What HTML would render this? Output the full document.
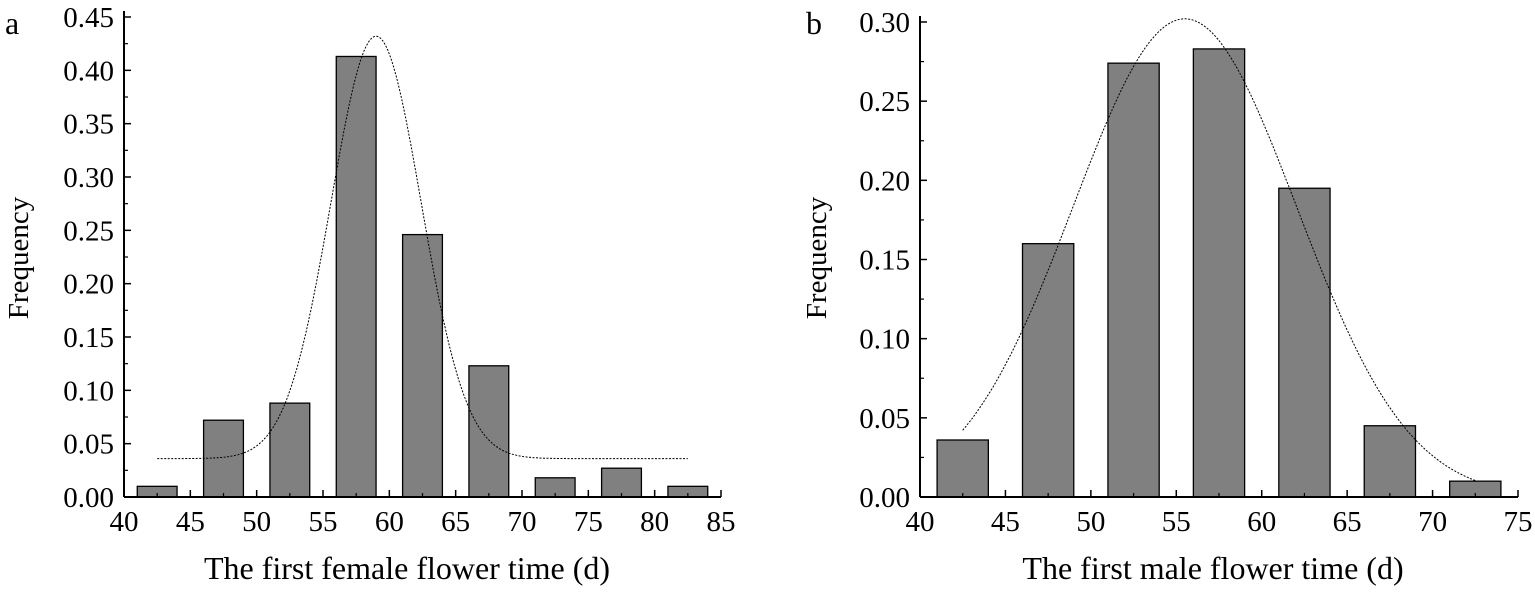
<!DOCTYPE html>
<html><head><meta charset="utf-8"><style>
body{margin:0;background:#fff}
svg text{font-family:"Liberation Serif",serif;fill:#000}
</style></head><body>
<svg id="s" width="1535" height="587" xmlns="http://www.w3.org/2000/svg"></svg>
<script>
const catsA=[42.5,47.5,52.5,57.5,62.5,67.5,72.5,77.5,82.5];
const valsA=[0.01,0.072,0.088,0.413,0.246,0.123,0.018,0.027,0.01];
const xTicksA=[40,45,50,55,60,65,70,75,80,85];
const yTicksA=[0,0.05,0.1,0.15,0.2,0.25,0.3,0.35,0.4,0.45];
const fitA=[59,3.4,0.396,0.036];
const catsB=[42.5,47.5,52.5,57.5,62.5,67.5,72.5];
const valsB=[0.036,0.16,0.274,0.283,0.195,0.045,0.01];
const xTicksB=[40,45,50,55,60,65,70,75];
const yTicksB=[0,0.05,0.1,0.15,0.2,0.25,0.3];
const fitB=[55.5,6.55,0.302,0];
const NS="http://www.w3.org/2000/svg",svg=document.getElementById('s');
function mk(t,a,p){const e=document.createElementNS(NS,t);for(const k in a)e.setAttribute(k,a[k]);(p||svg).appendChild(e);return e;}
function panel(id,P){
  const g=mk('g',{});
  
  
  const X=v=>P.x0+(v-P.xmin)/(P.xmax-P.xmin)*(P.x1-P.x0);
  const Y=v=>P.y0-(v/P.ymax)*(P.y0-P.y1);
  P.cats.forEach((c,i)=>{
    const r=mk('rect',{x:X(c-1.5),y:Y(P.vals[i]),width:X(c+1.5)-X(c-1.5),height:Y(0)-Y(P.vals[i]),fill:'#808080',stroke:'#000','stroke-width':1.3},g);
    
    
  });
  let d='';const [m,s,a,b]=P.fit;
  for(let v=P.cats[0];v<=P.cats[P.cats.length-1]+1e-9;v+=0.1){d+=(d?'L':'M')+X(v).toFixed(1)+','+Y(b+a*Math.exp(-(v-m)*(v-m)/(2*s*s))).toFixed(1);}
  const c=mk('path',{d:d,fill:'none',stroke:'#000','stroke-width':1,'stroke-dasharray':'2,1.5'},g);
  
  
  mk('line',{x1:P.x0,y1:P.y0,x2:P.x1,y2:P.y0,stroke:'#000','stroke-width':2},g);
  mk('line',{x1:P.x0,y1:P.y0,x2:P.x0,y2:P.y1-6,stroke:'#000','stroke-width':2},g);
  P.xt.forEach((v,i)=>{
    mk('line',{x1:X(v),y1:P.y0,x2:X(v),y2:P.y0-7,stroke:'#000','stroke-width':1.5},g);
    if(i<P.xt.length-1)mk('line',{x1:X(v+2.5),y1:P.y0,x2:X(v+2.5),y2:P.y0-4,stroke:'#000','stroke-width':1.2},g);
    const t=mk('text',{x:X(v),y:P.y0+34,'font-size':29,'text-anchor':'middle'},g);t.textContent=v;
    
    
  });
  P.yt.forEach((v,i)=>{
    mk('line',{x1:P.x0,y1:Y(v),x2:P.x0+7,y2:Y(v),stroke:'#000','stroke-width':1.5},g);
    if(i<P.yt.length-1)mk('line',{x1:P.x0,y1:Y(v+0.025),x2:P.x0+4,y2:Y(v+0.025),stroke:'#000','stroke-width':1.2},g);
    const t=mk('text',{x:P.x0-10,y:Y(v)+10,'font-size':29,'text-anchor':'end'},g);t.textContent=v.toFixed(2);
    
    
  });
  const xt=mk('text',{x:P.xtc,y:579,'font-size':32,'text-anchor':'middle'},g);xt.textContent=P.xtitle;
  
  
  const yt=mk('text',{x:0,y:0,'font-size':29,'text-anchor':'middle',transform:`translate(${P.ytx},258) rotate(-90)`},g);yt.textContent='Frequency';
  
  
  const l=mk('text',{x:P.lx,y:34,'font-size':32},g);l.textContent=P.label;
  
  
}
panel('panel-a',{x0:124,x1:721,xmin:40,xmax:85,y0:497,y1:17,ymax:0.45,cats:catsA,vals:valsA,xt:xTicksA,yt:yTicksA,fit:fitA,xtitle:'The first female flower time (d)',xtc:407,ytx:28,lx:5,label:'a'});
panel('panel-b',{x0:920,x1:1518,xmin:40,xmax:75,y0:497,y1:22,ymax:0.30,cats:catsB,vals:valsB,xt:xTicksB,yt:yTicksB,fit:fitB,xtitle:'The first male flower time (d)',xtc:1213,ytx:826,lx:806,label:'b'});
</script>
</body></html>
